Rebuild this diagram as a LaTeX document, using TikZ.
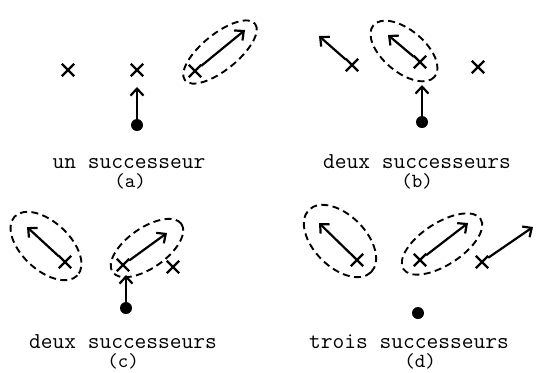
\documentclass[tikz,border=0pt]{standalone}
\usetikzlibrary{arrows.meta,shapes.misc}
\begin{document}
\begin{tikzpicture}[x=0.5pt,y=-0.5pt,
  pt/.style={cross out,draw,line width=1.2pt,minimum size=5pt,inner sep=0pt},
  dot/.style={circle,fill,minimum size=6pt,inner sep=0pt},
  mv/.style={line width=1.1pt,-{Straight Barb[length=3.5pt,width=6.5pt,line width=1.1pt]}},
  zone/.style={line width=0.95pt,dash pattern=on 3.5pt off 2.2pt},
  caption/.style={font=\fontsize{11.4}{12}\selectfont\ttfamily,inner sep=0pt,
    text height=1.3ex,text depth=0.1ex},
  letter/.style={font=\fontsize{10}{11}\selectfont\ttfamily,inner sep=0pt}]
\useasboundingbox (0,0) rectangle (541,372);

% (a) un successeur
\node[pt] (a1) at (68,70) {};
\node[pt] (a2) at (137,70) {};
\node[pt] (a3) at (195,71) {};
\coordinate (a3e) at (245,30);
\draw[mv] (a3) -- (a3e);
\draw[zone,rotate around={39:(220,52)}] (220,52) ellipse [x radius=45,y radius=18];
\node[dot] (ad) at (137,125) {};
\coordinate (ade) at (137,87);
\draw[mv] (ad) -- (ade);
\node[caption] (at) at (129,163) {un successeur};
\node[letter] (al) at (130,181) {(a)};

% (b) deux successeurs
\node[pt] (b1) at (352,65) {};
\coordinate (b1e) at (319,36);
\draw[mv] (b1) -- (b1e);
\node[pt] (b2) at (420,62) {};
\coordinate (b2e) at (388,35);
\draw[mv] (b2) -- (b2e);
\draw[zone,rotate around={-40:(404,51)}] (404,51) ellipse [x radius=40,y radius=21];
\node[pt] (b3) at (478,67) {};
\node[dot] (bd) at (422,122) {};
\coordinate (bde) at (422,85);
\draw[mv] (bd) -- (bde);
\node[caption] (bt) at (417,163) {deux successeurs};
\node[letter] (bl) at (417,181) {(b)};

% (c) deux successeurs
\node[pt] (c1) at (65,262) {};
\coordinate (c1e) at (27,227);
\draw[mv] (c1) -- (c1e);
\draw[zone,rotate around={-43:(46,246)}] (46,246) ellipse [x radius=43,y radius=24];
\node[pt] (c2) at (123,265) {};
\coordinate (c2e) at (167,233);
\draw[mv] (c2) -- (c2e);
\draw[zone,rotate around={35:(147,248)}] (147,248) ellipse [x radius=42,y radius=20];
\node[pt] (c3) at (173,267) {};
\node[dot] (cd) at (126,308) {};
\coordinate (cde) at (126,275);
\draw[mv] (cd) -- (cde);
\node[caption] (ct) at (123,343) {deux successeurs};
\node[letter] (cl) at (123,361) {(c)};

% (d) trois successeurs
\node[pt] (d1) at (357,260) {};
\coordinate (d1e) at (319,223);
\draw[mv] (d1) -- (d1e);
\draw[zone,rotate around={-45:(340,241)}] (340,241) ellipse [x radius=44,y radius=26];
\node[pt] (d2) at (420,260) {};
\coordinate (d2e) at (468,223);
\draw[mv] (d2) -- (d2e);
\draw[zone,rotate around={33:(442,244)}] (442,244) ellipse [x radius=46,y radius=21];
\node[pt] (d3) at (482,262) {};
\coordinate (d3e) at (533,227);
\draw[mv] (d3) -- (d3e);
\node[dot] (dd) at (418,313) {};
\node[caption] (dt) at (409,343) {trois successeurs};
\node[letter] (dl) at (420,361) {(d)};
\end{tikzpicture}
\end{document}
